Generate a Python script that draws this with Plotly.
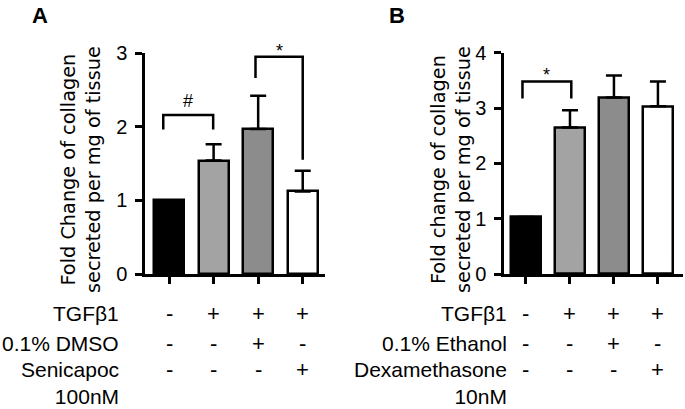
import plotly.graph_objects as go

# Panel A data
a_means = [1.0, 1.54, 1.97, 1.12]
a_errs = [0.0, 0.22, 0.45, 0.28]
a_colors = ["#000000", "#a3a3a3", "#8c8c8c", "#ffffff"]
a_rows = ["TGFβ1", "0.1% DMSO", "Senicapoc<br>100nM"]
a_signs = [["-", "+", "+", "+"], ["-", "-", "+", "-"], ["-", "-", "-", "+"]]
# brackets: (left x, right x, top y, left leg bottom, right leg bottom, label)
a_brackets = [(-0.13, 0.99, 2.16, 1.96, 1.96, "#"), (1.94, 3.0, 2.95, 2.66, 1.55, "*")]

# Panel B data
b_means = [1.03, 2.65, 3.19, 3.03]
b_errs = [0.0, 0.31, 0.40, 0.45]
b_colors = ["#000000", "#a3a3a3", "#8c8c8c", "#ffffff"]
b_rows = ["TGFβ1", "0.1% Ethanol", "Dexamethasone<br>10nM"]
b_signs = [["-", "+", "+", "+"], ["-", "-", "+", "-"], ["-", "-", "-", "+"]]
b_brackets = [(-0.08, 1.03, 3.48, 3.17, 3.17, "*")]

cats = [0, 1, 2, 3]

W, H = 685, 409
fig = go.Figure()

# vertical nudge for significance symbols (glyphs sit differently in the line box)
sym_shift = {"#": 2, "*": -6}


def add_panel(means, errs, cols, brackets, xa, ya):
    fig.add_trace(go.Bar(
        x=cats, y=means, width=0.67, xaxis=xa, yaxis=ya,
        marker=dict(color=cols, line=dict(color="black", width=2.5)),
        error_y=dict(type="data", symmetric=False, array=errs,
                     arrayminus=[0] * len(errs), color="black",
                     thickness=2.5, width=8),
        showlegend=False,
    ))
    for x0, x1, top, l0, l1, lab in brackets:
        fig.add_trace(go.Scatter(
            x=[x0, x0, x1, x1], y=[l0, top, top, l1], mode="lines",
            line=dict(color="black", width=2.5), xaxis=xa, yaxis=ya,
            showlegend=False, hoverinfo="skip",
        ))
        fig.add_annotation(x=(x0 + x1) / 2, y=top, xref=xa, yref=ya,
                           text=lab, showarrow=False, xanchor="center",
                           yanchor="bottom", yshift=sym_shift[lab],
                           font=dict(size=18, color="black"))


add_panel(a_means, a_errs, a_colors, a_brackets, "x", "y")
add_panel(b_means, b_errs, b_colors, b_brackets, "x2", "y2")

ax_common = dict(showline=True, linecolor="black", linewidth=2.5,
                 ticks="outside", ticklen=7, tickwidth=2.5, tickcolor="black",
                 showgrid=False, zeroline=False, automargin=False,
                 tickfont=dict(size=20, color="black", family="Liberation Sans"))

fig.update_layout(
    width=W, height=H,
    margin=dict(l=0, r=0, t=0, b=0, pad=0),
    plot_bgcolor="white", paper_bgcolor="white",
    font=dict(family="Liberation Sans", color="black"),
    bargap=0,
    xaxis=dict(domain=[145 / W, 325 / W], range=[-0.54, 3.5], anchor="y",
               tickvals=cats, ticktext=[""] * 4, **ax_common),
    yaxis=dict(domain=[135 / H, 356 / H], range=[0, 3], anchor="x",
               tickvals=[0, 1, 2, 3], ticklabelstandoff=4, **ax_common),
    xaxis2=dict(domain=[504 / W, 683 / W], range=[-0.5, 3.57], anchor="y2",
                tickvals=cats, ticktext=[""] * 4, **ax_common),
    yaxis2=dict(domain=[135 / H, 356.3 / H], range=[0, 4], anchor="x2",
                tickvals=[0, 1, 2, 3, 4], ticklabelstandoff=4, **ax_common),
)


def paper_note(px, py, text, size, family="Liberation Sans", **kw):
    fig.add_annotation(x=px / W, y=1 - py / H, xref="paper", yref="paper",
                       text=text, showarrow=False,
                       font=dict(size=size, family=family, color="black"), **kw)


# y-axis titles
paper_note(81, 170, "Fold Change of collagen<br>secreted per mg of tissue", 19.3,
           family="DejaVu Sans", textangle=-90, xanchor="center", yanchor="middle")
paper_note(451, 170, "Fold change of collagen<br>secreted per mg of tissue", 19.3,
           family="DejaVu Sans", textangle=-90, xanchor="center", yanchor="middle")

# panel letters
paper_note(40, 15, "<b>A</b>", 22, xanchor="center", yanchor="middle")
paper_note(397, 15, "<b>B</b>", 22, xanchor="center", yanchor="middle")

# condition table below axes
row_y = [313, 343, 369]


def add_table(rows, signs, label_right, xa):
    for i, (lab, sg) in enumerate(zip(rows, signs)):
        two = "<br>" in lab
        paper_note(label_right, row_y[i], lab, 21, xanchor="right",
                   yanchor="top" if two else "middle",
                   yshift=13 if two else 0, align="right")
        for c, s in zip(cats, sg):
            fig.add_annotation(x=c, y=1 - row_y[i] / H, xref=xa, yref="paper",
                               text=s, showarrow=False, xanchor="center",
                               yanchor="middle",
                               font=dict(size=22, color="black"))


add_table(a_rows, a_signs, 121, "x")
add_table(b_rows, b_signs, 509, "x2")

fig.write_html("out.html", config={"displayModeBar": False},
               post_script="document.body.style.margin='0px';")
